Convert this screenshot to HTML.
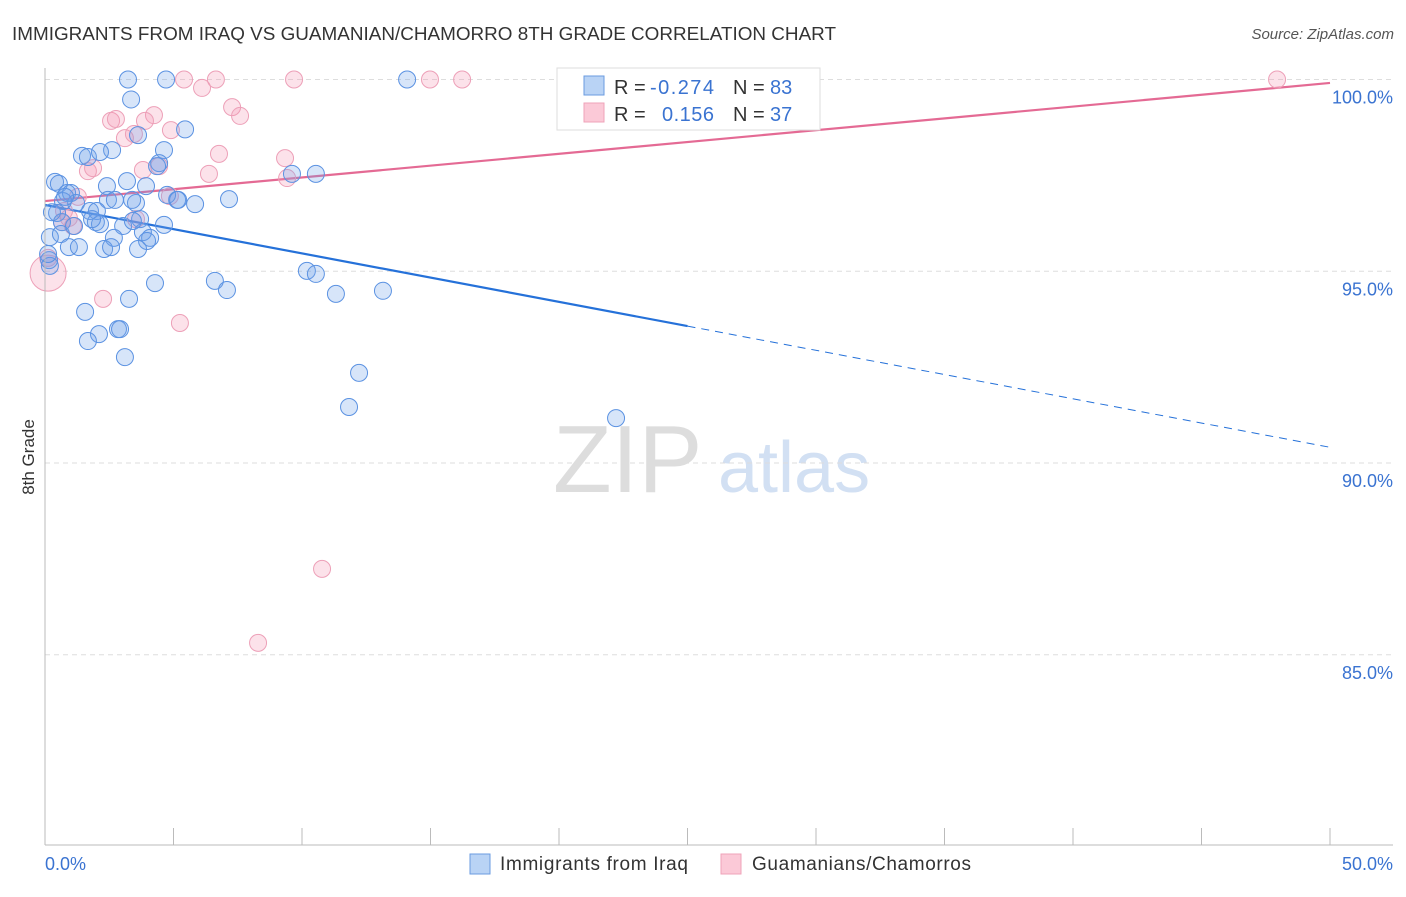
<!DOCTYPE html>
<html><head><meta charset="utf-8"><style>
body{margin:0;background:#fff;font-family:"Liberation Sans",sans-serif}
svg text{font-family:"Liberation Sans",sans-serif}
</style></head><body>
<svg id="c" width="1406" height="892" xmlns="http://www.w3.org/2000/svg">
<text x="12" y="40" font-size="18" fill="#333" textLength="824" lengthAdjust="spacingAndGlyphs">IMMIGRANTS FROM IRAQ VS GUAMANIAN/CHAMORRO 8TH GRADE CORRELATION CHART</text>
<text x="1394" y="39" font-size="15" fill="#555" text-anchor="end" font-style="italic">Source: ZipAtlas.com</text>
<g><text x="553" y="492" font-size="96" font-family="Liberation Serif" fill="#ddd">ZIP</text><text x="718" y="492" font-size="72" fill="#d2e0f3">atlas</text></g>
<g id="grid"></g><g id="ticks"></g><g id="lines"></g><g id="pts"></g>
<line x1="45" y1="68" x2="45" y2="845" stroke="#bbb"/>
<line x1="45" y1="845" x2="1393" y2="845" stroke="#bbb"/>
<text transform="translate(34,457) rotate(-90)" font-size="17" fill="#333" text-anchor="middle">8th Grade</text>
<text x="45" y="870" font-size="18" fill="#3a73d1">0.0%</text>
<text x="1393" y="870" font-size="18" fill="#3a73d1" text-anchor="end">50.0%</text>
<g>
<rect x="557" y="68" width="263" height="62" fill="#fff" stroke="#ddd"/>
<rect x="584" y="76" width="20" height="19" fill="#b9d3f5" stroke="#6a9be0"/>
<rect x="584" y="103" width="20" height="19" fill="#fbc9d7" stroke="#efa3b9"/>
<text x="614" y="94" font-size="20" fill="#333">R = </text><text x="650" y="94" font-size="20" fill="#3a73d1" textLength="64">-0.274</text>
<text x="733" y="94" font-size="20" fill="#333">N = </text><text x="770" y="94" font-size="20" fill="#3a73d1">83</text>
<text x="614" y="121" font-size="20" fill="#333">R = </text><text x="662" y="121" font-size="20" fill="#3a73d1" textLength="52">0.156</text>
<text x="733" y="121" font-size="20" fill="#333">N = </text><text x="770" y="121" font-size="20" fill="#3a73d1">37</text>
</g>
<g>
<rect x="470" y="854" width="20" height="20" fill="#b9d3f5" stroke="#6a9be0"/>
<text x="500" y="870" font-size="19" fill="#333" textLength="188">Immigrants from Iraq</text>
<rect x="721" y="854" width="20" height="20" fill="#fbc9d7" stroke="#efa3b9"/>
<text x="752" y="870" font-size="19" fill="#333" textLength="219">Guamanians/Chamorros</text>
</g>
</svg>
<script>
const blueX=[3.23,4.71,14.09,3.35,5.45,3.62,4.63,2.61,1.44,1.67,2.14,4.44,4.36,0.39,0.54,3.19,2.41,3.93,0.86,1.01,1.21,0.70,2.45,2.72,3.54,3.39,5.14,5.84,7.16,9.61,10.54,0.47,0.66,1.75,2.02,1.98,2.14,3.04,3.70,4.63,0.19,0.62,2.68,3.81,4.09,3.97,0.93,1.32,2.30,2.57,3.62,0.16,0.19,10.19,10.54,6.61,7.08,4.28,3.27,11.32,13.15,1.56,2.84,2.92,2.10,1.67,3.11,12.22,11.83,22.22,0.78,0.12,3.42,4.75,5.18,1.13,1.83,0.27];
const blueY=[100,100,100,99.48,98.70,98.55,98.16,98.16,98.01,97.98,98.11,97.82,97.74,97.33,97.28,97.35,97.22,97.22,97.04,97.04,96.78,96.83,96.86,96.86,96.78,96.86,96.86,96.75,96.88,97.54,97.54,96.52,96.28,96.57,96.57,96.28,96.23,96.18,96.36,96.21,95.89,95.97,95.87,96.02,95.87,95.79,95.63,95.63,95.58,95.63,95.58,95.29,95.14,95.01,94.93,94.75,94.51,94.69,94.28,94.41,94.49,93.94,93.49,93.49,93.36,93.18,92.76,92.35,91.46,91.17,96.94,95.45,96.31,96.99,96.86,96.18,96.36,96.54];
const pinkX=[5.41,6.65,9.69,14.98,16.23,47.94,6.11,7.28,7.59,4.24,3.89,2.57,2.76,3.11,3.46,4.90,6.77,9.34,6.38,3.81,4.44,1.67,9.42,1.87,1.28,1.09,0.66,0.93,4.86,3.54,2.26,5.25,10.78,8.29,0.12,0.12,0.74];
const pinkY=[100,100,100,100,100,100,99.78,99.28,99.05,99.07,98.92,98.92,98.97,98.47,98.58,98.68,98.06,97.95,97.54,97.64,97.74,97.61,97.43,97.69,96.94,96.18,96.28,96.39,96.96,96.36,94.28,93.65,87.24,85.31,94.95,95.35,96.57];
const pinkR=[8.5,8.5,8.5,8.5,8.5,8.5,8.5,8.5,8.5,8.5,8.5,8.5,8.5,8.5,8.5,8.5,8.5,8.5,8.5,8.5,8.5,8.5,8.5,8.5,8.5,8.5,8.5,8.5,8.5,8.5,8.5,8.5,8.5,8.5,18,8.5,8.5];
const yTicks=[100,95,90,85];
const yTickLabels=["100.0%","95.0%","90.0%","85.0%"];
const xTicks=[0,5,10,15,20,25,30,35,40,45,50];
const blueLine=[96.73,-0.1264];
const pinkLine=[96.83,0.0616];
const NS="http://www.w3.org/2000/svg";
const sx=v=>45+v*25.7;
const sy=v=>79.5+(100-v)*38.35;
function mk(tag,attrs,parent){const e=document.createElementNS(NS,tag);for(const k in attrs)e.setAttribute(k,attrs[k]);document.getElementById(parent).appendChild(e);return e;}
yTicks.forEach((t,i)=>{
 const g=mk('line',{x1:45,x2:1393,y1:sy(t),y2:sy(t),stroke:'#ddd','stroke-dasharray':'5,4'},'grid');
 
 
 const l=mk('text',{x:1393,y:sy(t)+24,'font-size':18,fill:'#3a73d1','text-anchor':'end'},'grid');
 l.textContent=yTickLabels[i];
 
 
});
xTicks.forEach(t=>{
 const l=mk('line',{x1:sx(t),x2:sx(t),y1:828,y2:845,stroke:'#bbb'},'ticks');
 
 
});
function drawPts(xs,ys,rs,fill,stroke,name){
 xs.forEach((x,i)=>{
  const c=mk('circle',{cx:sx(x),cy:sy(ys[i]),r:rs?rs[i]:8.5,fill:fill,stroke:stroke,'stroke-width':1},'pts');
  
  
 });
}
drawPts(pinkX,pinkY,pinkR,'rgba(245,150,180,0.28)','#eda0b8','point-guamanian');
drawPts(blueX,blueY,null,'rgba(110,160,235,0.28)','#5b92e2','point-iraq');
let e=mk('line',{x1:sx(0),y1:sy(blueLine[0]),x2:sx(25),y2:sy(blueLine[0]+25*blueLine[1]),stroke:'#2571d9','stroke-width':2.2},'lines');


e=mk('line',{x1:sx(25),y1:sy(blueLine[0]+25*blueLine[1]),x2:sx(50),y2:sy(blueLine[0]+50*blueLine[1]),stroke:'#2571d9','stroke-width':1,'stroke-dasharray':'8,6'},'lines');


e=mk('line',{x1:sx(0),y1:sy(pinkLine[0]),x2:sx(50),y2:sy(pinkLine[0]+50*pinkLine[1]),stroke:'#e46a94','stroke-width':2.2},'lines');


</script>
</body></html>
